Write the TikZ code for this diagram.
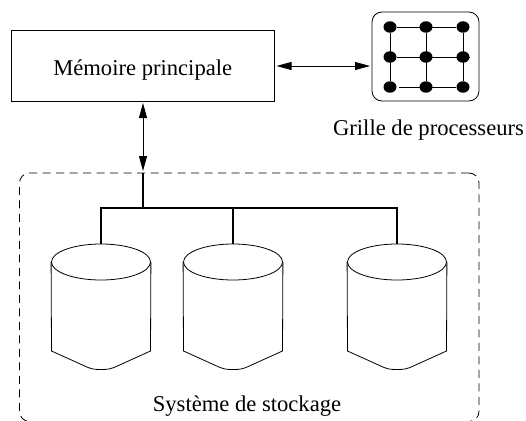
\documentclass[tikz,border=0pt]{standalone}
\usepackage{fontspec}
\setmainfont{Liberation Serif}
\usetikzlibrary{arrows.meta,shapes.geometric}

\tikzset{
    box/.style={draw, line width=0.8pt, inner sep=0pt},
    dot/.style={ellipse, fill=black, inner sep=0pt, minimum width=13pt, minimum height=11.5pt},
    link/.style={line width=0.9pt},
    bus/.style={line width=1.3pt},
    twoway/.style={line width=0.9pt, {Triangle[length=15pt,width=8pt]}-{Triangle[length=15pt,width=8pt]}},
    disktop/.style={ellipse, draw, line width=0.8pt, inner sep=0pt, minimum width=99pt, minimum height=36pt},
    caption/.style={font=\fontsize{22.6}{24}\selectfont, inner sep=0pt, anchor=base},
}

\begin{document}
\begin{tikzpicture}[x=1pt, y=-1pt]
    \useasboundingbox (0,0) rectangle (526,420);
    \clip (0,0) rectangle (526,420);

    \node[box, minimum width=263pt, minimum height=71pt] (memory) at (142.5,65.5) {};
    \node[caption] (memoryname) at (142.7,75) {Mémoire principale};
    \node[box, rounded corners=10pt, minimum width=107pt, minimum height=89pt] (grid) at (425.5,56.5) {};
    \node[caption] (gridname) at (428.5,135.5) {Grille de processeurs};

    % the dots of the grid
    \foreach \row/\y in {1/27, 2/57, 3/87} {
        \foreach \col/\x in {1/390, 2/426, 3/463} {
            \node[dot] (g\row\col) at (\x,\y) {};
        }
    }
    \coordinate (stubright) at (470,57);
    \coordinate (stubleft) at (399,87);

    \draw[link] (g11) -- (g13);
    \draw[link] (g21) -- (stubright);
    \draw[link] (stubleft) -- (g33);
    \draw[link] (g11) -- (g31);
    \draw[link] (g12) -- (g32);
    \draw[link] (g13) -- (g33);

    % storage
    \node[draw, dash pattern=on 8pt off 5.5pt, line width=0.8pt, rounded corners=10pt, minimum width=459.5pt, minimum height=248.5pt, inner sep=0pt] (storage) at (249.25,297.25) {};
    \node[caption] (storagename) at (247,411.5) {Système de stockage};

    \foreach \name/\x in {diskA/101, diskB/233, diskC/397} {
        \node[disktop] (\name) at (\x,262) {};
        \draw[line width=0.8pt] (\name.west) -- (\x-49.5,351) -- (\x-13,367.5)
            .. controls (\x-8,369.5) and (\x-4,369.5) .. (\x,369.5)
            .. controls (\x+4,369.5) and (\x+8,369.5) .. (\x+13,367.5)
            -- (\x+49.5,351) -- (\name.east);
    }

    \coordinate (trunk) at (143,208);
    \coordinate (storagetop) at (143,173);
    \draw[bus] (storagetop) -- (trunk);
    \draw[bus] (diskA.north) |- (trunk) -| (diskC.north);
    \draw[bus] (diskB.north) -- (diskB.north |- trunk);

    \coordinate (memorybottom) at (143,103);
    \coordinate (storageend) at (143,171);
    \draw[twoway] (memorybottom) -- (storageend);
    \coordinate (memoryright) at (276.5,66);
    \coordinate (gridleft) at (370,66);
    \draw[twoway] (memoryright) -- (gridleft);
\end{tikzpicture}
\end{document}
